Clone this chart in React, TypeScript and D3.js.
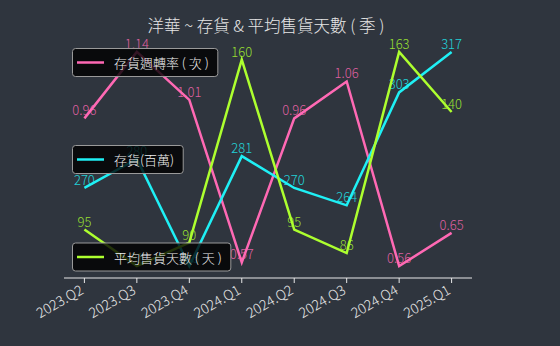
import { useEffect, useRef } from "react";
import * as d3 from "d3";

// ----- Data -----------------------------------------------------------------
const quarters = ["2023.Q2", "2023.Q3", "2023.Q4", "2024.Q1", "2024.Q2", "2024.Q3", "2024.Q4", "2025.Q1"];
const turnover = [0.96, 1.14, 1.01, 0.57, 0.96, 1.06, 0.56, 0.65];
const inventory = [270, 280, 243, 281, 270, 264, 303, 317];
const days = [95, 81, 90, 160, 95, 86, 163, 140];

const title = "洋華 ~ 存貨 & 平均售貨天數 ( 季 )";
const FONT = "'Noto Sans CJK TC', 'Noto Sans', sans-serif";

const W = 560;
const H = 346;

const App = () => {
  const ref = useRef<SVGSVGElement | null>(null);

  useEffect(() => {
    const svg = d3.select(ref.current);
    svg.selectAll("*").remove();

    const plot = { left: 64, right: 472, top: 40, bottom: 278 };

    svg.append("rect").attr("width", W).attr("height", H).attr("fill", "#2f353e");

    const n = quarters.length;
    const pad = ((n - 1) / 0.9) * 0.05;
    const x = d3.scaleLinear().domain([-pad, n - 1 + pad]).range([plot.left, plot.right]);

    const yFor = (vals: number[]) => {
      const [lo, hi] = d3.extent(vals) as [number, number];
      const m = (hi - lo) * 0.05 / 0.9;
      return d3.scaleLinear().domain([lo - m, hi + m]).range([plot.bottom, plot.top]);
    };

    const series = [
      { name: "存貨週轉率 ( 次 )", vals: turnover, color: "#ff69b4", fmt: (v: number) => v.toFixed(2), legendY: 62.5 },
      { name: "存貨(百萬)", vals: inventory, color: "#1ff0f5", fmt: (v: number) => String(v), legendY: 159.5 },
      { name: "平均售貨天數 ( 天 )", vals: days, color: "#adff2f", fmt: (v: number) => String(v), legendY: 257 },
    ];

    // title
    svg.append("text")
      .attr("x", 266).attr("y", 32)
      .attr("text-anchor", "middle")
      .attr("font-family", FONT).attr("font-size", 16.5)
      .attr("font-weight", 300)
      .attr("fill", "#e6e6e6")
      .text(title);

    // lines + labels
    series.forEach((s) => {
      const y = yFor(s.vals);
      const line = d3.line<number>().x((_, i) => x(i)).y((d) => y(d));
      svg.append("path")
        .datum(s.vals)
        .attr("fill", "none")
        .attr("stroke", s.color)
        .attr("stroke-width", 2.5)
        .attr("stroke-linejoin", "miter")
        .attr("d", line);
      svg.append("g")
        .selectAll("text")
        .data(s.vals)
        .join("text")
        .attr("x", (_, i) => x(i))
        .attr("y", (d) => y(d) - 3)
        .attr("text-anchor", "middle")
        .attr("font-family", FONT).attr("font-size", 13)
        .attr("font-weight", 300)
        .attr("fill", s.color)
        .attr("fill-opacity", 0.85)
        .text((d) => s.fmt(d));
    });

    // x axis
    const axis = svg.append("g");
    axis.append("line")
      .attr("x1", plot.left).attr("x2", plot.right)
      .attr("y1", plot.bottom).attr("y2", plot.bottom)
      .attr("stroke", "#e8e8e8").attr("stroke-width", 1);
    quarters.forEach((q, i) => {
      axis.append("line")
        .attr("x1", x(i)).attr("x2", x(i))
        .attr("y1", plot.bottom).attr("y2", plot.bottom + 5)
        .attr("stroke", "#e8e8e8");
      axis.append("text")
        .attr("transform", `translate(${x(i)},${plot.bottom + 15}) rotate(-30)`)
        .attr("text-anchor", "end")
        .attr("font-family", FONT).attr("font-size", 14)
        .attr("font-weight", 300)
        .attr("fill", "#e8e8e8")
        .text(q);
    });

    // legends
    series.forEach((s) => {
      const g = svg.append("g");
      const box = g.append("rect")
        .attr("x", 72.5).attr("y", s.legendY - 14)
        .attr("height", 28)
        .attr("rx", 3)
        .attr("fill", "#000").attr("fill-opacity", 0.8)
        .attr("stroke", "#9a9a9a").attr("stroke-width", 1);
      g.append("line")
        .attr("x1", 77).attr("x2", 104)
        .attr("y1", s.legendY).attr("y2", s.legendY)
        .attr("stroke", s.color).attr("stroke-width", 2.5);
      const t = g.append("text")
        .attr("x", 114).attr("y", s.legendY)
        .attr("dominant-baseline", "central")
        .attr("font-family", FONT).attr("font-size", 13)
        .attr("font-weight", 300)
        .attr("fill", "#f0f0f0")
        .text(s.name);
      const w = (t.node() as SVGTextElement).getComputedTextLength();
      box.attr("width", 114 + w + 9 - 72.5);
    });
  }, []);

  return (
    <svg
      ref={ref}
      width={W}
      height={H}
      style={{ display: "block", position: "absolute", left: 0, top: 0 }}
    />
  );
};

export default App;
